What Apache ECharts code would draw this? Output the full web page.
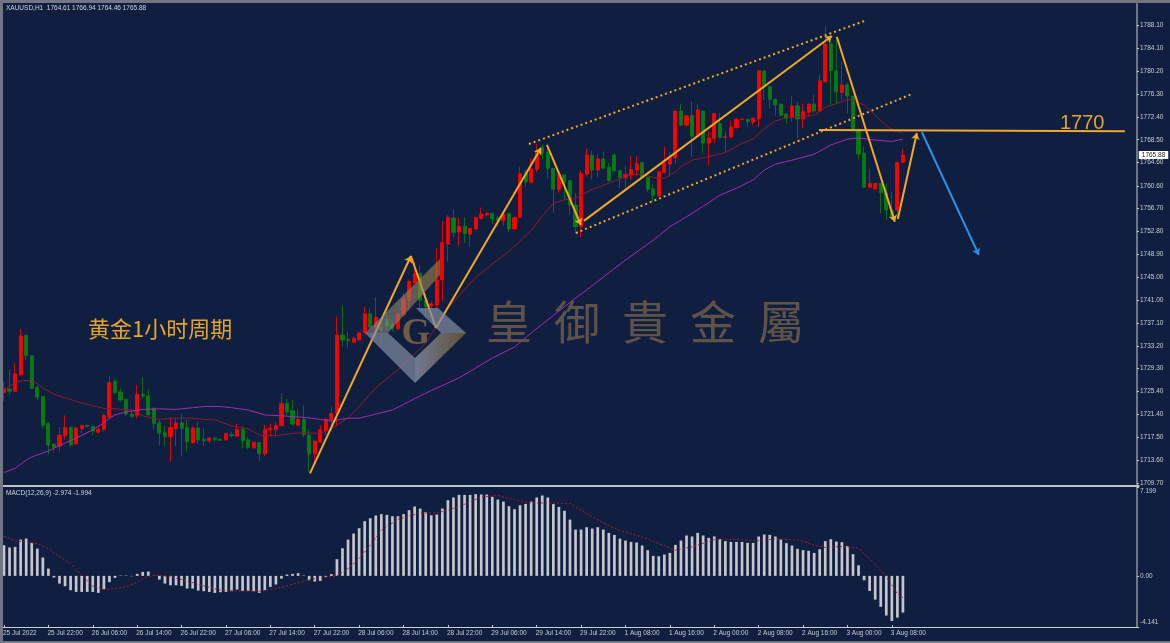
<!DOCTYPE html>
<html><head><meta charset="utf-8">
<style>html,body{margin:0;padding:0;background:#101f3f}#c{width:1170px;height:643px}</style>
<script src="https://cdn.jsdelivr.net/npm/echarts@6/dist/echarts.min.js"></script>
</head><body><div id="c"></div>
<script>
const tickLabels = ['25 Jul 2022','25 Jul 22:00','26 Jul 06:00','26 Jul 14:00','26 Jul 22:00','27 Jul 06:00','27 Jul 14:00','27 Jul 22:00','28 Jul 06:00','28 Jul 14:00','28 Jul 22:00','29 Jul 06:00','29 Jul 14:00','29 Jul 22:00','1 Aug 08:00','1 Aug 16:00','2 Aug 00:00','2 Aug 08:00','2 Aug 16:00','3 Aug 00:00','3 Aug 08:00'];
const priceTicks = [1788.10,1784.10,1780.20,1776.30,1772.40,1768.50,1764.60,1760.60,1756.70,1752.80,1748.90,1745.00,1741.00,1737.10,1733.20,1729.30,1725.40,1721.40,1717.50,1713.60,1709.70];
const macdTicks = [7.199,0,-4.141];
const macdTickText = ['7.199','0.00','-4.141'];
const macdLabelAnchors = [6.85,0,-3.79];
const opens = [
1725.2,1725.8,1725.4,1728.2,1735.0,1731.5,1726.1,1724.5,1719.9,1716.4,
1716.0,1717.8,1719.2,1716.4,1719.0,1719.6,1719.4,1718.4,1718.9,1721.0,
1727.1,1725.3,1724.0,1721.5,1721.3,1724.9,1724.6,1722.5,1720.0,1718.3,
1717.6,1719.0,1720.0,1719.2,1716.6,1719.1,1717.2,1716.9,1717.4,1717.2,
1717.1,1718.0,1717.7,1718.9,1717.1,1715.7,1716.6,1714.7,1718.8,1718.8,
1719.5,1723.3,1722.1,1719.6,1720.6,1717.9,1714.7,1716.7,1718.6,1720.5,
1721.6,1735.05,1734.3,1733.8,1734.2,1735.4,1738.7,1736.4,1736.4,1737.7,
1736.9,1736.1,1738.5,1741.0,1744.0,1745.6,1741.0,1740.0,1740.2,1744.5,
1750.6,1755.1,1752.7,1753.7,1752.3,1753.2,1755.0,1755.6,1755.9,1755.1,
1754.6,1755.8,1753.2,1755.2,1762.9,1761.2,1763.4,1767.2,1766.3,1763.6,
1760.0,1762.5,1761.5,1757.3,1753.6,1762.6,1765.8,1763.3,1765.2,1763.8,
1765.9,1763.2,1762.0,1762.4,1763.3,1764.6,1762.0,1760.1,1758.9,1762.9,
1764.3,1765.4,1773.4,1771.0,1772.6,1769.1,1773.4,1767.9,1768.7,1771.3,
1768.9,1769.0,1770.6,1771.95,1772.0,1771.5,1772.1,1780.3,1777.6,1775.4,
1774.6,1772.9,1772.3,1774.3,1772.05,1773.2,1774.6,1773.4,1778.45,1784.9,
1780.3,1776.6,1777.9,1776.0,1770.3,1766.2,1760.35,1760.05,1761.0,1759.4,
1756.45,1756.45,1764.61];
const closes = [
1725.9,1725.4,1728.4,1734.9,1731.5,1725.9,1724.4,1719.6,1716.2,1715.8,
1717.9,1719.2,1716.2,1719.1,1719.6,1719.4,1718.6,1718.9,1721.3,1726.9,
1725.2,1723.9,1721.5,1721.1,1724.9,1724.6,1721.4,1719.9,1718.2,1717.6,
1719.2,1720.0,1719.0,1716.8,1719.1,1717.1,1716.9,1717.4,1717.2,1717.0,
1718.2,1717.8,1718.9,1716.9,1715.8,1716.7,1714.7,1718.9,1719.1,1719.6,
1723.3,1721.9,1719.8,1720.6,1718.0,1714.7,1716.9,1718.8,1720.6,1721.6,
1735.05,1734.2,1734.1,1734.5,1735.4,1738.7,1736.4,1738.1,1735.9,1736.6,
1736.1,1738.7,1741.3,1744.2,1745.6,1741.0,1739.9,1740.4,1744.5,1750.9,
1755.2,1752.6,1753.7,1752.4,1753.3,1755.2,1755.8,1755.9,1755.0,1754.6,
1755.7,1753.2,1755.2,1762.7,1761.3,1763.5,1766.7,1766.2,1763.6,1760.0,
1762.5,1761.3,1757.3,1753.6,1762.7,1765.9,1763.3,1765.2,1763.6,1761.5,
1763.2,1762.0,1762.6,1763.4,1764.4,1762.0,1760.0,1758.9,1763.0,1764.4,
1765.4,1773.4,1771.0,1772.6,1769.1,1773.6,1767.9,1768.8,1773.0,1768.9,
1769.0,1770.7,1772.0,1772.05,1771.6,1772.2,1780.3,1777.6,1775.4,1774.45,
1772.7,1772.2,1774.3,1772.05,1773.3,1774.6,1773.4,1778.6,1784.9,1780.3,
1776.7,1777.9,1776.0,1770.3,1766.05,1760.35,1761.0,1761.0,1759.4,1756.45,
1755.3,1764.6,1765.88];
const lows = [
1723.7,1724.9,1725.3,1728.2,1730.8,1725.9,1723.9,1719.0,1714.6,1714.9,
1715.1,1717.1,1715.9,1716.4,1718.2,1719.3,1717.9,1718.1,1718.5,1720.5,
1724.8,1723.6,1721.1,1720.8,1720.8,1724.2,1721.1,1718.8,1716.2,1716.0,
1713.3,1716.0,1714.2,1715.1,1716.4,1716.4,1716.0,1716.5,1716.8,1716.9,
1716.9,1717.5,1717.6,1715.7,1715.5,1715.6,1713.5,1714.3,1717.6,1717.6,
1719.4,1721.3,1719.5,1719.5,1717.6,1711.6,1713.3,1716.5,1717.9,1718.5,
1719.4,1733.2,1732.9,1733.6,1734.1,1735.2,1735.9,1734.5,1733.9,1735.9,
1735.6,1735.9,1738.2,1739.3,1743.8,1739.6,1737.9,1739.6,1739.6,1740.9,
1747.6,1751.8,1750.4,1750.8,1750.2,1753.0,1754.8,1755.4,1754.1,1753.6,
1753.7,1752.6,1753.0,1755.2,1760.5,1761.0,1762.9,1765.1,1761.9,1756.0,
1759.4,1758.2,1755.6,1752.4,1751.8,1762.2,1761.7,1762.1,1763.4,1761.3,
1763.0,1760.2,1760.0,1761.6,1762.2,1761.9,1759.6,1757.9,1758.7,1762.7,
1762.2,1764.4,1770.9,1770.7,1765.6,1769.0,1766.2,1764.1,1767.9,1768.7,
1766.3,1768.7,1770.4,1771.9,1770.7,1771.0,1770.7,1775.3,1773.9,1772.6,
1772.4,1771.3,1771.6,1768.7,1770.4,1772.4,1773.1,1773.3,1778.2,1774.45,
1774.7,1775.3,1773.0,1769.9,1765.1,1760.3,1760.3,1760.0,1755.9,1754.75,
1754.75,1755.3,1764.46];
const highs = [
1727.1,1729.1,1730.2,1736.1,1735.1,1731.5,1726.5,1724.5,1720.2,1716.4,
1719.3,1721.3,1719.4,1719.4,1719.6,1719.7,1719.4,1719.2,1721.6,1728.0,
1727.5,1725.9,1724.2,1722.2,1726.5,1727.8,1725.7,1722.7,1720.5,1719.4,
1720.8,1720.8,1721.6,1720.5,1719.4,1720.2,1719.1,1717.6,1717.5,1717.3,
1718.3,1718.5,1719.9,1719.4,1717.6,1716.7,1716.8,1719.6,1719.9,1720.2,
1725.1,1724.1,1723.9,1722.3,1723.1,1718.8,1716.9,1719.6,1720.8,1722.8,
1738.2,1740.1,1735.6,1734.8,1735.6,1739.9,1739.6,1741.5,1737.3,1739.0,
1737.3,1739.0,1742.2,1744.5,1747.6,1747.0,1742.2,1740.8,1749.9,1754.6,
1755.6,1756.6,1755.2,1755.2,1753.4,1755.3,1756.9,1756.1,1756.0,1755.4,
1756.0,1756.0,1755.3,1763.9,1763.3,1765.3,1767.8,1767.6,1767.3,1763.6,
1763.3,1762.5,1761.6,1759.4,1763.2,1767.0,1766.6,1766.1,1766.5,1764.5,
1766.2,1763.3,1764.1,1765.7,1765.7,1764.7,1762.2,1761.0,1763.3,1767.3,
1766.4,1773.5,1774.7,1772.7,1775.1,1774.6,1773.4,1769.9,1773.1,1773.1,
1769.9,1771.8,1772.3,1772.1,1772.1,1772.3,1780.4,1780.3,1777.6,1775.6,
1774.7,1773.0,1776.0,1775.0,1774.7,1774.7,1776.2,1779.6,1788.0,1786.4,
1786.2,1781.9,1778.2,1776.0,1770.3,1767.3,1763.5,1761.0,1761.0,1761.0,
1759.6,1764.7,1766.94];
const maFastBars = [0,2,3,5,6,7,9,11,14,17,18,20,23,25,28,30,34,36,38,41,44,46,49,52,54,57,59,62,64,67,72,76,80,82,85,88,91,95,97,99,101,103,106,110,111,113,115,117,119,121,122,124,127,130,133,135,137,139,141,144,146,148,150,152,153,155,157,159,160,162];
const maFastVals = [1725.6,1726.9,1727.2,1727.3,1726.7,1726.0,1724.9,1724.3,1723.4,1722.7,1722.5,1722.4,1722.2,1721.2,1720.6,1720.8,1720.8,1720.6,1720.5,1719.5,1719.0,1717.9,1717.8,1718.2,1718.3,1718.2,1719.0,1720.8,1722.8,1726.0,1729.9,1733.7,1739.6,1741.8,1744.9,1747.2,1749.4,1752.9,1755.4,1757.6,1758.2,1758.5,1760.0,1761.4,1761.8,1762.5,1762.6,1762.05,1761.9,1763.0,1763.9,1765.0,1765.6,1766.3,1767.9,1768.6,1770.4,1771.7,1772.3,1772.45,1772.7,1774.05,1774.7,1775.4,1775.3,1774.45,1772.7,1770.85,1770.3,1769.6];
const maSlowBars = [0,2,4,5,8,10,13,16,18,19,20,22,25,28,31,34,36,39,41,44,47,50,54,57,59,62,64,70,76,82,88,92,95,101,106,112,117,120,123,126,129,132,135,137,139,142,146,149,152,154,157,160,162];
const maSlowVals = [1711.5,1712.2,1713.6,1714.15,1715.2,1716.1,1717.4,1718.8,1720.0,1720.8,1721.35,1721.9,1722.3,1722.4,1722.3,1722.6,1722.8,1722.8,1722.6,1722.2,1721.35,1721.2,1720.95,1720.6,1720.3,1720.8,1720.8,1722.2,1725.1,1727.7,1731.1,1733.0,1735.4,1739.9,1743.5,1747.9,1751.3,1753.6,1755.3,1757.1,1759.0,1760.2,1761.6,1763.3,1764.3,1765.0,1766.0,1767.6,1768.6,1768.8,1768.45,1768.2,1768.6];
const macdHist = [
2.48,2.30,2.35,2.94,3.02,2.67,2.21,1.49,0.59,-0.13,
-0.62,-0.84,-1.16,-1.30,-1.30,-1.30,-1.30,-1.38,-1.08,-0.51,
-0.16,0.03,0.03,-0.03,0.16,0.32,0.35,0.02,-0.30,-0.62,
-0.76,-0.76,-0.81,-1.03,-1.03,-1.19,-1.24,-1.30,-1.38,-1.32,
-1.30,-1.24,-1.11,-1.22,-1.22,-1.24,-1.38,-1.16,-0.89,-0.70,
-0.22,0.11,0.16,0.22,0.03,-0.35,-0.46,-0.41,-0.08,0.14,
1.35,2.24,2.94,3.43,3.86,4.43,4.67,4.89,5.00,4.94,
4.83,4.83,5.00,5.32,5.62,5.45,5.18,4.91,4.97,5.45,
6.13,6.35,6.56,6.56,6.56,6.62,6.59,6.59,6.40,6.18,
6.02,5.64,5.40,5.72,5.83,6.02,6.35,6.51,6.35,5.81,
5.59,5.27,4.56,3.75,3.75,3.94,3.83,3.94,3.75,3.48,
3.32,3.02,2.86,2.75,2.70,2.46,2.08,1.62,1.59,1.73,
1.86,2.51,2.86,3.27,3.19,3.48,3.27,3.08,3.19,2.97,
2.81,2.75,2.75,2.75,2.67,2.67,3.19,3.35,3.32,3.19,
2.94,2.65,2.46,2.19,2.08,2.03,1.86,2.16,2.81,2.97,
2.78,2.73,2.40,1.76,0.86,-0.35,-1.22,-1.92,-2.51,-3.21,
-3.65,-3.38,-2.97];
const signalBars = [0,2,4,6,8,10,12,14,16,18,20,22,24,26,28,30,33,36,39,42,46,49,52,55,58,60,62,64,66,68,71,72,75,78,80,83,86,89,92,95,98,102,105,108,111,115,118,121,124,128,132,136,139,143,144,146,148,151,154,156,158,159,161,162];
const signalVals = [3.21,2.84,2.75,2.62,2.21,1.54,1.00,0.05,-0.84,-1.11,-1.03,-0.89,-0.49,-0.03,0.05,-0.08,-0.41,-0.81,-1.16,-1.22,-1.24,-1.03,-0.68,-0.30,-0.11,0.00,0.59,1.40,2.48,3.70,4.59,4.70,5.10,5.10,5.32,5.80,6.40,6.51,6.18,5.91,5.91,5.86,5.05,4.29,3.65,3.16,2.62,2.08,2.35,2.94,2.94,2.84,3.00,2.89,2.81,2.48,2.30,2.38,2.24,1.40,0.46,-0.08,-1.43,-1.76];
// drawn trendlines: [bar, price, bar, price]
const orangeArrows = [[55.14,1711.36,73.33,1748.58],[77.84,1736.25,96.76,1767.08],[97.84,1767.6,103.96,1753.9],[104.5,1754.6,149.2,1786.27],[150.1,1786.1,160.54,1754.46],[161.08,1754.92,164.5,1769.65]];
const orangePlain = [[73.33,1748.58,77.84,1736.25]];
const channelLines = [[94.6,1767.77,155.5,1789.0],[103.06,1752.52,163.6,1776.33]];
const levelLine = [146.85,1770.17,202.0,1769.94];
const blueArrow = [165.4,1769.82,175.68,1748.75];
const lastPriceLine = [0,1765.88,204.5,1765.88];
const watermarkChars = ['皇','御','貴','金','屬'];

const totalBars = 205;
const band = 5.549;
const gridL = 4 - band/2;
const gridW = totalBars*band;
const pMax = 1791.75, pMin = 1709.27;
const labelCol = '#c6ced6', frameCol = '#6f7783', orange = '#f2a927';

const cats = [];
for (let i=0;i<totalBars;i++) cats.push(i%8===0 && i/8<tickLabels.length ? tickLabels[i/8] : 'b'+i);
const isTick = i => i%8===0 && i/8<tickLabels.length;
const candle = opens.map((o,i)=>[o,closes[i],lows[i],highs[i]]);
const zip = (a,b)=>a.map((v,i)=>[v,b[i]]);
const seg = s => [{coord:[s[0],s[1]]},{coord:[s[2],s[3]]}];
const annot = (name,segs,color,width,type,sym) => ({
  name,type:'line',xAxisIndex:2,yAxisIndex:0,data:[],silent:true,z:18,
  markLine:{silent:true,animation:false,symbol:sym,symbolSize:6.5,label:{show:false},
    lineStyle:{color,width,type,opacity:1},emphasis:{disabled:true},data:segs.map(seg)}
});

const txt = (t,x,y,font,fill,extra) => ({type:'text',silent:true,z:20,x,y,style:Object.assign({text:t,font,fill,textAlign:'left',textVerticalAlign:'middle'},extra||{})});
const poly = (pts,fill,opacity) => ({type:'polygon',silent:true,z:15,shape:{points:pts},style:{fill,opacity}});
const grad = (a,b) => ({type:'linear',x:0,y:0,x2:1,y2:0,colorStops:[{offset:0,color:a},{offset:1,color:b}]});

const graphic = [
  {type:'rect',silent:true,z:30,shape:{x:0,y:0,width:3,height:643},style:{fill:frameCol}},
  {type:'rect',silent:true,z:30,shape:{x:0,y:0,width:1170,height:3},style:{fill:frameCol}},
  {type:'rect',silent:true,z:30,shape:{x:0,y:641,width:1170,height:2},style:{fill:frameCol}},
  txt('XAUUSD,H1  1764.61 1766.94 1764.46 1765.88',6,8.5,'6.5px "Liberation Sans"','#d2d8de'),
  txt('MACD(12,26,9) -2.974 -1.994',6,493,'6.5px "Liberation Sans"','#d2d8de'),
  txt('黄金1小时周期',88,329,'22px "Noto Sans CJK SC"','#e5a52b'),
  txt('1770',1060,123,'20px "Liberation Sans"','#e5a52b'),
  // logo
  poly([[365,333],[440,259],[440,275],[388,333]],grad('#7c879c','#a3823f'),0.6),
  poly([[365,333],[415,383],[415,358],[388,333]],'#7f8aa0',0.72),
  poly([[416,308],[438,308],[466,333],[441,333]],'#7f8aa0',0.72),
  poly([[415,383],[466,333],[441,333],[415,358]],grad('#7f8aa0','#6e5a33'),0.85),
  txt('G',401.5,334,'bold 37px "Liberation Serif"','#6e5c47')
];
watermarkChars.forEach((ch,i)=>graphic.push(txt(ch,486+i*68,322,'46px "Noto Sans CJK TC"','#5f5349')));

const option = {
  animation:false,
  backgroundColor:'#101f3f',
  graphic:{elements:graphic},
  grid:[
    {left:gridL,top:4,width:gridW,height:481.5},
    {left:gridL,top:487,width:gridW,height:140}
  ],
  xAxis:[
    {type:'category',gridIndex:0,data:cats,boundaryGap:true,axisLabel:{show:false},axisTick:{show:false},
     axisLine:{show:true,onZero:false,lineStyle:{color:'#b9c2c4',width:2}},splitLine:{show:false}},
    {type:'category',gridIndex:1,data:cats,boundaryGap:true,
     axisLine:{show:true,onZero:false,lineStyle:{color:'#c6ced6',width:1}},
     axisTick:{show:true,inside:true,length:2,alignWithLabel:true,interval:i=>isTick(i),lineStyle:{color:'#c6ced6'}},
     axisLabel:{show:true,interval:i=>isTick(i),color:labelCol,fontSize:6.5,fontFamily:'Liberation Sans',align:'left',margin:3,padding:[0,0,0,-1],hideOverlap:false,
       formatter:v=>v.charAt(0)==='b'?'':v},
     splitLine:{show:false}},
    {type:'value',gridIndex:0,min:-0.5,max:totalBars-0.5,show:false,splitLine:{show:false}}
  ],
  yAxis:[
    {type:'value',gridIndex:0,position:'right',offset:-1.8,min:pMin,max:pMax,splitLine:{show:false},
     axisLine:{show:true,onZero:false,lineStyle:{color:frameCol,width:2}},
     axisTick:{show:true,length:2,customValues:priceTicks,lineStyle:{color:labelCol}},
     axisLabel:{show:true,customValues:priceTicks,color:labelCol,fontSize:6.5,fontFamily:'Liberation Sans',margin:3,formatter:v=>v.toFixed(2)}},
    {type:'value',gridIndex:1,position:'right',offset:-1.8,min:-4.141,max:7.199,splitLine:{show:false},
     axisLine:{show:true,onZero:false,lineStyle:{color:frameCol,width:2}},
     axisTick:{show:true,length:2,customValues:macdTicks,lineStyle:{color:labelCol}},
     axisLabel:{show:true,customValues:macdLabelAnchors,color:labelCol,fontSize:6.5,fontFamily:'Liberation Sans',margin:3,
       formatter:v=>macdTickText[macdLabelAnchors.indexOf(v)]}}
  ],
  series:[
    {name:'XAUUSD',type:'candlestick',xAxisIndex:0,yAxisIndex:0,data:candle,barWidth:3.6,z:3,
     itemStyle:{color:'#ff0000',color0:'#077d10',borderColor:'#ff0000',borderColor0:'#077d10',borderWidth:0.8}},
    {name:'MA fast',type:'line',xAxisIndex:2,yAxisIndex:0,data:zip(maFastBars,maFastVals),symbol:'none',z:4,silent:true,
     lineStyle:{color:'#8c1a2e',width:1}},
    {name:'MA slow',type:'line',xAxisIndex:2,yAxisIndex:0,data:zip(maSlowBars,maSlowVals),symbol:'none',z:4,silent:true,
     lineStyle:{color:'#a32bb4',width:1}},
    annot('arrows',orangeArrows,orange,2,'solid',['none','arrow']),
    annot('legs',orangePlain,orange,2,'solid',['none','none']),
    annot('channel',channelLines,orange,2,[2,3],['none','none']),
    annot('level',[levelLine],orange,2,'solid',['none','none']),
    annot('projection',[blueArrow],'#2f8fe6',2,'solid',['none','arrow']),
    {name:'last',type:'line',xAxisIndex:2,yAxisIndex:0,data:[],silent:true,z:19,
     markLine:{silent:true,animation:false,symbol:'none',clip:false,lineStyle:{color:'rgba(0,0,0,0)',width:1,opacity:1},
       label:{show:true,position:'end',distance:0,formatter:'1765.88',opacity:1,color:'#222',fontSize:6.5,fontFamily:'Liberation Sans',backgroundColor:'#ffffff',padding:[0.5,3,0.5,3]},
       data:[seg(lastPriceLine)]}},
    {name:'MACD',type:'bar',xAxisIndex:1,yAxisIndex:1,data:macdHist,barWidth:2.7,z:3,silent:true,
     itemStyle:{color:'#c4c6cc'}},
    {name:'Signal',type:'line',xAxisIndex:1,yAxisIndex:1,data:zip(signalBars,signalVals),symbol:'none',z:4,silent:true,
     lineStyle:{color:'#a11d33',width:1,type:[2,2]}}
  ]
};
const chart = echarts.init(document.getElementById('c'),null,{renderer:'canvas',width:1170,height:643});
chart.setOption(option);
</script></body></html>
